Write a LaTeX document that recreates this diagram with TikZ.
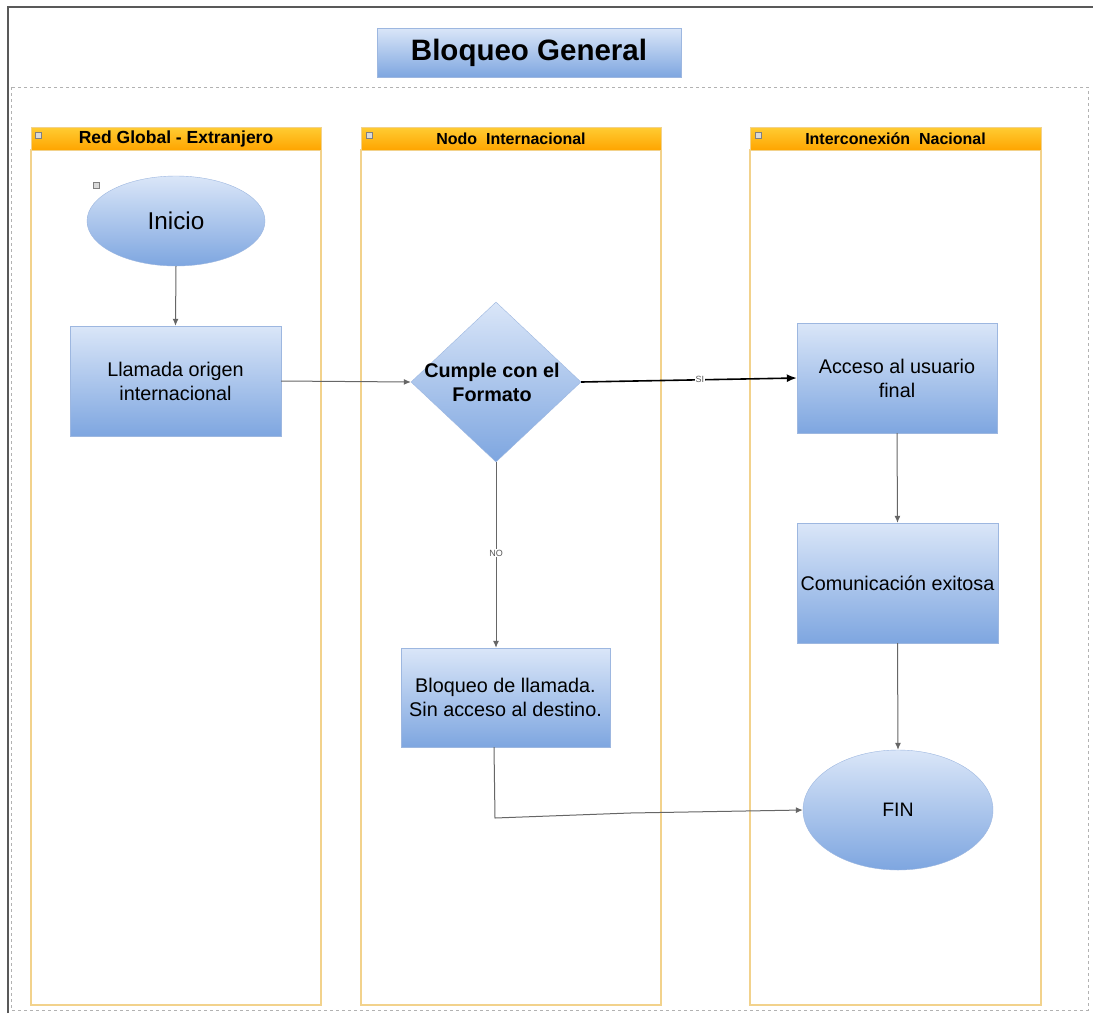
\documentclass[tikz,border=0pt]{standalone}
\usepackage{fontspec}
\setmainfont{Liberation Sans}
\usetikzlibrary{shapes.geometric,arrows.meta}
\definecolor{boxtop}{HTML}{DAE6F8}
\definecolor{boxbot}{HTML}{7EA6E0}
\definecolor{boxline}{HTML}{9DB7E0}
\definecolor{lanetop}{HTML}{FFCC33}
\definecolor{lanebot}{HTML}{FFA500}
\definecolor{laneline}{HTML}{F2D28C}
\tikzset{
  x=1pt,y=-1pt,
  blue/.style={draw=boxline,top color=boxtop,bottom color=boxbot,align=center,inner sep=2pt},
  procbox/.style={blue,rectangle,font=\fontsize{19.8}{24}\selectfont},
  oval/.style={blue,ellipse},
  lanebody/.style={draw=laneline,line width=1.5pt,fill=white},
  lanehead/.style={draw=laneline,top color=lanetop,bottom color=lanebot,font=\bfseries\fontsize{16}{18}\selectfont},
  icon/.style={draw=gray,fill=gray!30,minimum size=6pt,inner sep=0pt},
  garrow/.style={draw=gray!80!black,line width=1pt,-{Latex[length=7pt,width=6pt]}},
  karrow/.style={draw=black,line width=1.6pt,-{Latex[length=10pt,width=8pt]}},
  lbl/.style={fill=white,inner sep=1pt,font=\fontsize{9}{10}\selectfont,text=gray!70!black}
}
\begin{document}
\begin{tikzpicture}
\useasboundingbox (0,0) rectangle (1093,1013);
% outer frame
\draw[gray!70!black,line width=1.5pt] (8,1013) -- (8,7) -- (1093,7);
\draw[gray!60,dashed,line width=0.8pt] (11,87) rectangle (1088,1010);
% title
\node[blue,minimum width=304pt,minimum height=49pt,font=\bfseries\fontsize{29.5}{32}\selectfont] (title) at (529,52.5) {Bloqueo General};
% lanes
\draw[lanebody] (31,150) rectangle (321,1005);
\draw[lanebody] (361,150) rectangle (661,1005);
\draw[lanebody] (750,150) rectangle (1041,1005);
\node[lanehead,minimum width=290pt,minimum height=23pt] (h1) at (176,138.5) {\fontsize{17.5}{19}\selectfont Red Global - Extranjero};
\node[lanehead,minimum width=300pt,minimum height=23pt] (h2) at (511,138.5) {Nodo\ \ Internacional};
\node[lanehead,minimum width=291pt,minimum height=23pt] (h3) at (895.5,138.5) {Interconexión\ \ Nacional};
\node[icon] (i1) at (38,135) {};
\node[icon] (i2) at (369,135) {};
\node[icon] (i3) at (758,135) {};
\node[icon] (i4) at (96,185) {};
% nodes
\node[oval,minimum width=178pt,minimum height=90pt,font=\fontsize{24.3}{26}\selectfont] (inicio) at (176,221) {Inicio};
\node[procbox,minimum width=211pt,minimum height=110pt] (llamada) at (175.5,381) {Llamada origen\\internacional};
\node[blue,diamond,minimum width=170pt,minimum height=160pt,inner sep=0pt,aspect=1.06] (dec) at (496,382) {};
\node[font=\bfseries\fontsize{19.8}{24}\selectfont,align=center] (dectext) at (492,382) {Cumple con el\\Formato};
\node[procbox,minimum width=200pt,minimum height=110pt] (acceso) at (897,378) {Acceso al usuario\\final};
\node[procbox,minimum width=201pt,minimum height=120pt] (comun) at (897.5,583) {Comunicación exitosa};
\node[procbox,minimum width=209pt,minimum height=99pt] (bloqueo) at (505.5,697.5) {Bloqueo de llamada.\\Sin acceso al destino.};
\node[oval,minimum width=190pt,minimum height=120pt,font=\fontsize{19.5}{22}\selectfont] (fin) at (898,810) {FIN};
% connectors
\draw[garrow] (inicio.south) -- (llamada.north);
\draw[garrow] (llamada.east) -- (dec.west);
\draw[karrow] (dec.east) -- node[lbl,pos=0.55] {SI} (acceso.west);
\draw[garrow] (dec.south) -- node[lbl,pos=0.49] {NO} (dec.south |- bloqueo.north);
\draw[garrow] (acceso.south) -- (comun.north);
\draw[garrow] (comun.south) -- (fin.north);
\coordinate (bend) at (495,818);
\draw[garrow] (bloqueo.south -| 494,0) -- (bend) -- (630,813) -- (fin.west);
\end{tikzpicture}
\end{document}
